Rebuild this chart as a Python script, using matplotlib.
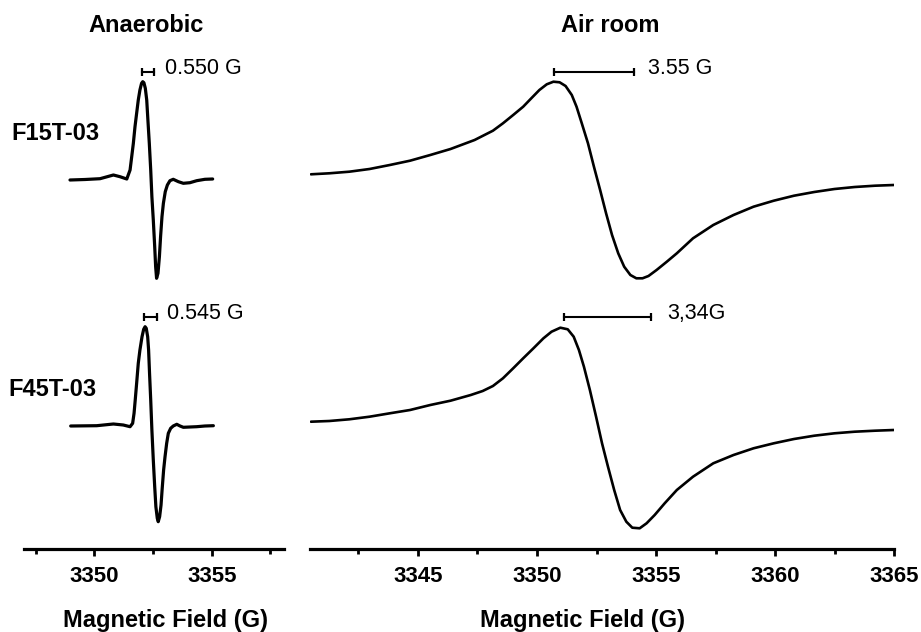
import matplotlib
matplotlib.use("Agg")
import matplotlib.pyplot as plt

plt.rcParams["font.family"] = ["Liberation Sans", "DejaVu Sans"]

W, H = 921, 632

# --- data (field in G, intensity in arbitrary units) ---
ana_f15_field = [3348.96, 3349.60, 3350.24, 3350.81, 3351.09, 3351.38, 3351.52, 3351.59,
                 3351.66, 3351.73, 3351.80, 3351.87, 3351.94, 3352.01, 3352.06, 3352.11,
                 3352.17, 3352.23, 3352.28, 3352.34, 3352.40, 3352.45, 3352.51, 3352.57,
                 3352.61, 3352.65, 3352.71, 3352.77, 3352.82, 3352.88, 3352.94, 3353.02,
                 3353.11, 3353.22, 3353.36, 3353.58, 3353.79, 3354.07, 3354.36, 3354.71,
                 3355.04]
ana_f15_int = [0, 0.5, 1.3, 5, 3.3, 1, 10, 23.3, 36.7, 53.3, 66.7, 80, 90, 96.7, 98.3,
               97.3, 91.7, 80, 60, 36.7, 10, -16.7, -40, -66.7, -86.7, -98.3, -93.3,
               -76.7, -56.7, -36.7, -23.3, -11.7, -5, -0.7, 0.7, -1.7, -3.3, -2.7, -0.7,
               0.7, 1]

ana_f45_field = [3348.99, 3350.10, 3350.81, 3351.23, 3351.52, 3351.63, 3351.69, 3351.74,
                 3351.80, 3351.87, 3351.94, 3352.03, 3352.10, 3352.16, 3352.21, 3352.27,
                 3352.31, 3352.35, 3352.40, 3352.45, 3352.51, 3352.57, 3352.62, 3352.68,
                 3352.72, 3352.78, 3352.84, 3352.89, 3352.95, 3353.01, 3353.08, 3353.15,
                 3353.25, 3353.36, 3353.51, 3353.65, 3353.79, 3354.07, 3354.36, 3354.71,
                 3355.07]
ana_f45_int = [0, 0.3, 2, 1, -0.7, 2.7, 12.7, 26, 42.7, 62.7, 76, 89.3, 96.7, 99.3, 97.7,
               89.3, 76, 52.7, 26, -4, -34, -60.7, -80.7, -92.3, -95.7, -90.7, -79,
               -62.3, -44, -30.7, -17.3, -7.3, -2.3, 0, 1.7, 0, -1.3, -1, -0.7, 0, 0.3]

air_f15_field = [3340.51, 3341.28, 3342.12, 3342.97, 3343.82, 3344.67, 3345.52, 3346.37,
                 3347.38, 3348.15, 3348.57, 3349.00, 3349.42, 3349.76, 3350.10, 3350.41,
                 3350.69, 3350.95, 3351.20, 3351.46, 3351.66, 3351.88, 3352.14, 3352.39,
                 3352.65, 3352.90, 3353.15, 3353.41, 3353.66, 3353.92, 3354.17, 3354.43,
                 3354.68, 3355.02, 3355.45, 3355.87, 3356.55, 3357.40, 3358.25, 3359.09,
                 3359.94, 3360.79, 3361.64, 3362.49, 3363.34, 3364.19, 3364.98]
air_f15_int = [5.7, 6.7, 8.3, 11, 15, 19.3, 25, 31, 40, 49.3, 56.7, 65, 73.3, 81.7, 90,
               95.7, 98.3, 97.7, 94, 85, 73.3, 56.7, 36.7, 13.3, -10, -33.3, -55, -73.3,
               -86.7, -95, -98.3, -98.3, -96, -90, -81.7, -73.3, -58.3, -45, -35, -26.7,
               -20.7, -15.7, -12, -9, -7, -5.7, -5]

air_f45_field = [3340.51, 3341.28, 3342.12, 3342.97, 3343.82, 3344.67, 3345.52, 3346.37,
                 3347.22, 3347.72, 3348.15, 3348.57, 3349.00, 3349.42, 3349.85, 3350.27,
                 3350.61, 3350.98, 3351.29, 3351.54, 3351.76, 3351.97, 3352.22, 3352.48,
                 3352.73, 3352.98, 3353.24, 3353.49, 3353.75, 3354.00, 3354.31, 3354.60,
                 3354.94, 3355.36, 3355.87, 3356.55, 3357.40, 3358.25, 3359.09, 3359.94,
                 3360.79, 3361.64, 3362.49, 3363.34, 3364.19, 3364.98]
air_f45_int = [4.3, 5, 6.7, 9.3, 12.7, 16, 21, 25.3, 31, 35, 40, 47.7, 57.7, 67.7, 77.7,
               87.7, 94.3, 98.3, 96.7, 89.3, 76, 59.3, 36, 9.3, -17.3, -40.7, -64, -84,
               -95.7, -101.7, -102.3, -97.3, -89, -77.3, -64, -50.7, -37.3, -29, -22.3,
               -17.3, -13, -9.7, -7.3, -5.7, -4.7, -4]

samples = ["F15T-03", "F45T-03"]
offsets = [0, -246]

fig = plt.figure(figsize=(W / 100, H / 100), dpi=100)
ax_l = fig.add_axes([24 / W, 1 - 549 / H, 260 / W, 549 / H])
ax_r = fig.add_axes([310 / W, 1 - 549 / H, 584.3 / W, 549 / H])

line_kw = dict(color="black", solid_joinstyle="round", solid_capstyle="round")
ax_l.plot(ana_f15_field, [v + offsets[0] for v in ana_f15_int], lw=2.3, **line_kw)
ax_l.plot(ana_f45_field, [v + offsets[1] for v in ana_f45_int], lw=2.3, **line_kw)
ax_r.plot(air_f15_field, [v + offsets[0] for v in air_f15_int], lw=1.9, **line_kw)
ax_r.plot(air_f45_field, [v + offsets[1] for v in air_f45_int], lw=1.9, **line_kw)

ax_l.set_xlim(3347.0, 3358.08)
ax_r.set_xlim(3340.47, 3365.0)
ax_l.set_xticks([3350, 3355])
ax_l.set_xticks([3347.5, 3352.5, 3357.5], minor=True)
ax_r.set_xticks([3345, 3350, 3355, 3360, 3365])
ax_r.set_xticks([3342.5, 3347.5, 3352.5, 3357.5, 3362.5], minor=True)

for ax in (ax_l, ax_r):
    ax.set_ylim(-369, 180)
    ax.set_yticks([])
    for s in ("top", "left", "right"):
        ax.spines[s].set_visible(False)
    ax.spines["bottom"].set_linewidth(2.3)
    ax.tick_params(axis="x", which="major", direction="out", length=5, width=2.0,
                   pad=7, labelsize=16)
    ax.tick_params(axis="x", which="minor", direction="out", length=3.5, width=2.0)
    for lbl in ax.get_xticklabels():
        lbl.set_fontweight("bold")
    ax.patch.set_alpha(0)


# line-width scale bars
def scale_bar(ax, x1, x2, y, text, tx):
    ax.plot([x1, x2], [y, y], color="black", lw=1.5, marker="|", ms=5.5, mew=1.6,
            clip_on=False)
    ax.text(tx, y + 3, text, fontsize=15.5, va="center", ha="left")


scale_bar(ax_l, 3352.01, 3352.54, 108, "0.550 G", 3353.01)
scale_bar(ax_l, 3352.11, 3352.67, -136.7, "0.545 G", 3353.09)
scale_bar(ax_r, 3350.73, 3354.09, 108.3, "3.55 G", 3354.68)
scale_bar(ax_r, 3351.12, 3354.77, -136.7, "3,34G", 3355.45)

fig.text(146.5 / W, 1 - 25 / H, "Anaerobic", fontsize=17, fontweight="bold",
         ha="center", va="center")
fig.text(610 / W, 1 - 25 / H, "Air room", fontsize=17, fontweight="bold",
         ha="center", va="center")
fig.text(11 / W, 1 - 133 / H, samples[0], fontsize=17, fontweight="bold",
         ha="left", va="center")
fig.text(8 / W, 1 - 390 / H, samples[1], fontsize=17, fontweight="bold",
         ha="left", va="center")
fig.text(165 / W, 1 - 620 / H, "Magnetic Field (G)", fontsize=17, fontweight="bold",
         ha="center", va="center")
fig.text(583 / W, 1 - 620 / H, "Magnetic Field (G)", fontsize=17, fontweight="bold",
         ha="center", va="center")

fig.savefig("out.png", dpi=100)
